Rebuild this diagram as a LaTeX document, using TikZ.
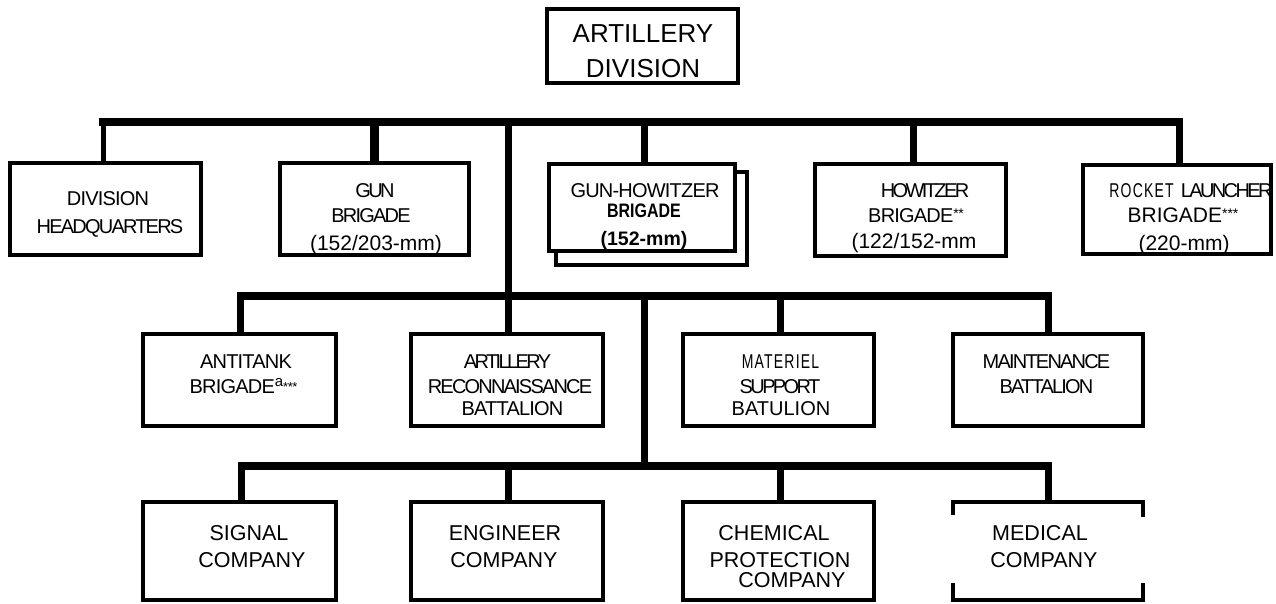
\documentclass[tikz,border=0pt]{standalone}
\usepackage{fontspec}
\setmainfont{Liberation Sans}
\newfontfamily\tA[LetterSpace=-4]{Liberation Sans}
\newfontfamily\tB[LetterSpace=-9]{Liberation Sans}
\newfontfamily\tC[LetterSpace=-13]{Liberation Sans}
\newfontfamily\condf[FakeStretch=0.82]{Liberation Sans}
\newfontfamily\spacedf[FakeStretch=0.7,LetterSpace=6]{Liberation Sans}
\newcommand\szT{\fontsize{26}{26}\selectfont}
\newcommand\szA{\fontsize{20}{20}\selectfont}
\newcommand\szN{\fontsize{21}{21}\selectfont}
\newcommand\szB{\fontsize{21.5}{21.5}\selectfont}
\newcommand\szC{\fontsize{19.5}{19.5}\selectfont}
\newcommand\szS{\fontsize{14}{14}\selectfont}
\begin{document}
\begin{tikzpicture}[x=1pt,y=-1pt,
  box/.style={draw, line width=4pt, fill=white, inner sep=0pt, outer sep=0pt},
  r1/.style={box, minimum width=190pt, minimum height=92pt},
  r2/.style={box, minimum width=192pt, minimum height=92pt},
  r3/.style={box, minimum width=192pt, minimum height=98pt},
  bus/.style={line width=8pt, line cap=rect},
  conn/.style={line width=7pt},
  lt/.style={anchor=base, inner sep=0pt},
  ln/.style={anchor=base, inner sep=0pt, font=\szN},
  l3/.style={anchor=base, inner sep=0pt, font=\szB}]
\fill[white] (0,0) rectangle (1276,603);
\useasboundingbox (0,0) rectangle (1276,603);

% title
\node[box, minimum width=191pt, minimum height=74pt] (div) at (642.5,46) {};
\node[anchor=base, inner sep=0pt, font=\szT] (div1) at (643,42) {ARTILLERY};
\node[anchor=base, inner sep=0pt, font=\szT] (div2) at (643,77) {DIVISION};

% row 1
\node[r1, minimum width=191pt] (dh) at (105.5,209) {};
\node[r1, minimum width=189pt] (gn) at (374.5,209) {};
\node[box, minimum width=191pt, minimum height=93pt] (ghs) at (651.5,218.5) {};
\node[box, minimum width=186pt, minimum height=87pt] (gh) at (642,207.5) {};
\node[r1, minimum width=191pt] (hw) at (910.5,209.5) {};
\node[r1, minimum width=188pt, minimum height=89pt] (rk) at (1177,209.5) {};

\node[lt, font=\tA\szA] (dh1) at (108,205) {DIVISION};
\node[lt, font=\tB\szA] (dh2) at (110,233) {HEADQUARTERS};
\node[lt, font=\tC\szA] (gn1) at (375,197) {GUN};
\node[lt, font=\tB\szA] (gn2) at (371,222) {BRIGADE};
\node[ln] (gn3) at (376,250) {(152/203-mm)};
\node[lt, font=\tA\szA] (gh1) at (645,197) {GUN-HOWITZER};
\node[anchor=base, inner sep=0pt, font=\condf\bfseries\szC] (gh2) at (644,217) {BRIGADE};
\node[anchor=base, inner sep=0pt, font=\bfseries\szC] (gh3) at (644,245) {(152-mm)};
\node[lt, font=\tC\szA] (hw1) at (925,197) {HOWITZER};
\node[lt, font=\tA\szA] (hw2) at (916,222) {BRIGADE\raisebox{4pt}{\szS **}};
\node[ln] (hw3) at (914,248) {(122/152-mm};
\node[lt, font=\tC\szA] (rk1) at (1191,197) {{\spacedf ROCKET}\hspace{7pt}LAUNCHER};
\node[ln] (rk2) at (1183,222) {BRIGADE\raisebox{4pt}{\szS ***}};
\node[ln] (rk3) at (1184,250) {(220-mm)};

% row 2
\node[r2, minimum width=193pt] (at) at (239.5,380) {};
\node[r2] (ar) at (507,380) {};
\node[r2, minimum width=191pt] (mt) at (778.5,380) {};
\node[r2, minimum width=190pt] (mn) at (1048,380) {};

\node[lt, font=\tA\szA] (at1) at (246,368) {ANTITANK};
\node[lt, font=\tA\szA] (at2) at (243.5,393) {BRIGADE\raisebox{7pt}{\fontsize{15}{15}\selectfont a}\raisebox{2pt}{\fontsize{13}{13}\selectfont ***}};
\node[lt, font=\tC\szA] (ar1) at (507.5,368) {ARTILLERY};
\node[lt, font=\tB\szA] (ar2) at (510,393) {RECONNAISSANCE};
\node[lt, font=\tA\szA] (ar3) at (512.5,415) {BATTALION};
\node[lt, font=\spacedf\szA] (mt1) at (780.5,368) {MATERIEL};
\node[lt, font=\tC\szA] (mt2) at (780,393) {SUPPORT};
\node[lt, font=\szA] (mt3) at (781,415) {BATULION};
\node[lt, font=\tB\szA] (mn1) at (1046.5,368) {MAINTENANCE};
\node[lt, font=\tB\szA] (mn2) at (1046.5,393) {BATTALION};

% row 3
\node[r3, minimum width=193pt] (sg) at (239.5,551) {};
\node[r3] (en) at (507,551) {};
\node[r3, minimum width=191pt] (ch) at (778.5,551) {};
\node[r3, minimum width=190pt, draw=none, fill=none] (md) at (1048,551) {};
\draw[line width=4pt] ([yshift=-13pt]md.north west) -- (md.north west) -- (md.north east) -- ([yshift=-15pt]md.north east);
\draw[line width=4pt] ([yshift=17pt]md.south west) -- (md.south west) -- (md.south east) -- ([yshift=17pt]md.south east);

\node[l3] (sg1) at (249,540) {SIGNAL};
\node[l3] (sg2) at (252,567) {COMPANY};
\node[l3] (en1) at (505,540) {ENGINEER};
\node[l3] (en2) at (504,567) {COMPANY};
\node[l3] (ch1) at (774,540) {CHEMICAL};
\node[l3] (ch2) at (780,567) {PROTECTION};
\node[l3] (ch3) at (792,587) {COMPANY};
\node[l3] (md1) at (1040,540) {MEDICAL};
\node[l3] (md2) at (1044,567) {COMPANY};

% connectors, top level
\coordinate (tb) at (0,122);
\draw[bus] ([xshift=-2.5pt]dh.north |- tb) -- ([xshift=2pt]rk.north |- tb);
\draw[line width=5pt] ([xshift=-2.5pt]dh.north |- tb) -- ([xshift=-2.5pt]dh.north);
\draw[line width=9pt] (gn.north |- tb) -- (gn.north);
\draw[conn] ([xshift=2pt]gh.north |- tb) -- ([xshift=2pt]gh.north);
\draw[conn] ([xshift=2.5pt]hw.north |- tb) -- ([xshift=2.5pt]hw.north);
\draw[conn] ([xshift=2pt]rk.north |- tb) -- ([xshift=2pt]rk.north);
\draw[conn] ([xshift=1pt]ar.north |- tb) -- ([xshift=1pt]ar.north);

% second level
\coordinate (mb) at (0,296);
\draw[bus] ([xshift=1pt]at.north |- mb) -- (mn.north |- mb);
\draw[conn] ([xshift=1pt]at.north |- mb) -- ([xshift=1pt]at.north);
\draw[conn] ([xshift=2pt]mt.north |- mb) -- ([xshift=2pt]mt.north);
\draw[conn] (mn.north |- mb) -- (mn.north);

% third level
\coordinate (dp) at (644,296);
\coordinate (lb) at (0,466);
\draw[conn] (dp) -- (dp |- lb);
\draw[bus] ([xshift=2pt]sg.north |- lb) -- (md.north |- lb);
\draw[conn] ([xshift=2pt]sg.north |- lb) -- ([xshift=2pt]sg.north);
\draw[conn] ([xshift=1pt]en.north |- lb) -- ([xshift=1pt]en.north);
\draw[conn] ([xshift=2pt]ch.north |- lb) -- ([xshift=2pt]ch.north);
\draw[conn] (md.north |- lb) -- (md.north);
\end{tikzpicture}
\end{document}
